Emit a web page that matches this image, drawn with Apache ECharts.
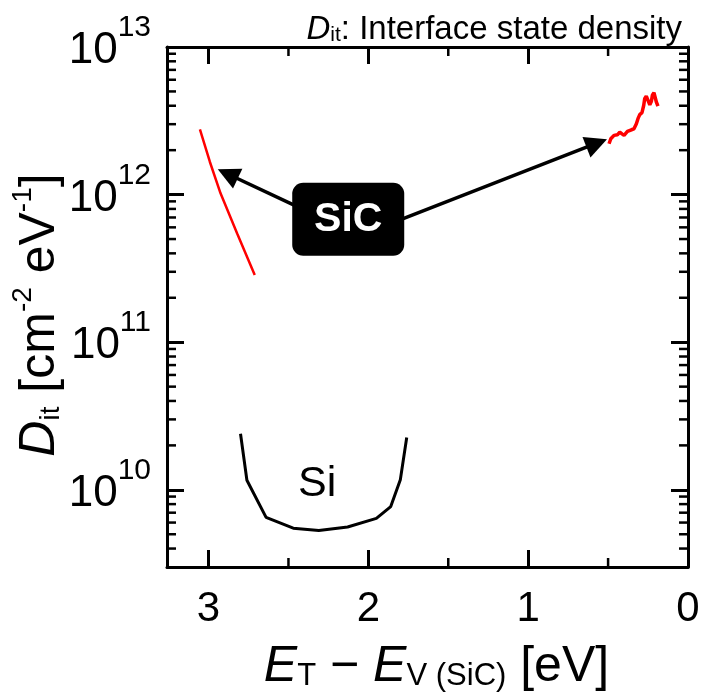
<!DOCTYPE html>
<html>
<head>
<meta charset="utf-8">
<script src="https://cdn.jsdelivr.net/npm/echarts@6/dist/echarts.min.js"></script>
<style>
  html, body { margin: 0; padding: 0; background: #fff; }
  #chart { width: 704px; height: 695px; }
</style>
</head>
<body>
<div id="chart"></div>
<script>
// Interface state density vs. trap energy, measured from the SiC valence band edge [eV]

// Si/SiO2 interface (drawn inside the SiC gap)
const siEnergy = [2.80, 2.76, 2.64, 2.47, 2.31, 2.13, 1.95, 1.86, 1.80, 1.76];
const siDit    = [2.40e10, 1.16e10, 6.5e9, 5.5e9, 5.3e9, 5.6e9, 6.4e9, 7.7e9, 1.17e10, 2.26e10];

// SiC/SiO2 interface, near the conduction band
const sicCbEnergy = [3.054, 2.992, 2.925, 2.821, 2.711];
const sicCbDit    = [2.77e12, 1.67e12, 1.02e12, 5.46e11, 2.85e11];

// SiC/SiO2 interface, near the valence band
const sicVbEnergy = [0.494, 0.483, 0.463, 0.442, 0.427, 0.413, 0.400, 0.379, 0.354, 0.338,
                     0.323, 0.313, 0.302, 0.288, 0.277, 0.271, 0.261, 0.250, 0.239, 0.229,
                     0.223, 0.213, 0.204, 0.198, 0.188];
const sicVbDit    = [2.21e12, 2.39e12, 2.52e12, 2.54e12, 2.65e12, 2.58e12, 2.52e12, 2.68e12, 2.75e12, 2.79e12,
                     3.02e12, 3.27e12, 3.48e12, 3.59e12, 4.03e12, 4.46e12, 4.65e12, 4.51e12, 4.06e12, 4.29e12,
                     4.71e12, 4.90e12, 4.75e12, 4.24e12, 3.98e12];

// Axis labels
const xTickLabels = [0, 1, 2, 3];
const yDecades = [10, 11, 12, 13];
const xMinorTicks = [0.5, 1.5, 2.5];

// Axis ranges
const xMin = 0, xMax = 3.26;
const yMin = 3e9, yMax = 1e13;

// Annotation anchors in data coordinates
const arrowLeftFrom  = [2.425, 8.1e11];
const arrowLeftTo    = [2.88, 1.38e12];
const arrowRightFrom = [1.81, 6.7e11];
const arrowRightTo   = [0.571, 2.23e12];
const sicBoxAt       = [2.126, 6.8e11];
const siLabelAt      = [2.32, 1.1e10];

const FONT = "'Liberation Sans', Arial, Helvetica, sans-serif";

// Log minor ticks (2..9 x 10^n) inside the plotted range
const yMinorTicks = [];
for (let e = 9; e <= 12; e++) {
  for (let m = 2; m <= 9; m++) {
    const v = m * Math.pow(10, e);
    if (v > yMin && v < yMax) yMinorTicks.push(v);
  }
}

function pair(xs, ys) { return xs.map((x, i) => [x, ys[i]]); }

function decadeLabel(v) {
  const lg = Math.log10(v);
  const e = Math.round(lg);
  if (Math.abs(lg - e) > 1e-6 || !yDecades.includes(e)) return '';
  return '{b|10}{s|' + e + '}';
}

const axisLineStyle = { show: true, onZero: false, lineStyle: { color: '#000', width: 3 } };
const majorTick = { show: true, inside: true, length: 17, lineStyle: { color: '#000', width: 3 } };

const chart = echarts.init(document.getElementById('chart'), null, { renderer: 'canvas' });

chart.setOption({
  animation: false,
  backgroundColor: '#fff',
  title: {
    text: '{i|D}{sub|it}{n|: Interface state density}',
    right: 22,
    top: 6,
    padding: 0,
    textStyle: {
      fontWeight: 'normal',
      rich: {
        i:   { fontFamily: FONT, fontStyle: 'italic', fontWeight: 'normal', fontSize: 33, lineHeight: 40, color: '#000', verticalAlign: 'bottom' },
        sub: { fontFamily: FONT, fontWeight: 'normal', fontSize: 21, lineHeight: 21, color: '#000', verticalAlign: 'bottom' },
        n:   { fontFamily: FONT, fontWeight: 'normal', fontSize: 33, lineHeight: 40, color: '#000', verticalAlign: 'bottom' }
      }
    }
  },
  grid: { left: 167, right: 16, top: 47, bottom: 128, outerBoundsMode: 'none', containLabel: false },
  xAxis: [
    {
      type: 'value', position: 'bottom', inverse: true,
      min: xMin, max: xMax, interval: 1,
      axisLine: axisLineStyle, axisTick: majorTick, splitLine: { show: false },
      axisLabel: {
        margin: 21, fontSize: 42, color: '#000', fontFamily: FONT,
        formatter: v => (xTickLabels.includes(v) ? String(v) : '')
      },
      name: '{i|E}{sub|T}{n| − }{i|E}{sub|V (SiC)}{n| [eV]}',
      nameLocation: 'middle', nameGap: 59, nameMoveOverlap: false,
      nameTextStyle: {
        padding: [0, 0, 0, 18],
        rich: {
          i:   { fontFamily: FONT, fontStyle: 'italic', fontSize: 50, lineHeight: 66, color: '#000', verticalAlign: 'bottom' },
          sub: { fontFamily: FONT, fontSize: 31, lineHeight: 31, color: '#000', verticalAlign: 'bottom' },
          n:   { fontFamily: FONT, fontSize: 50, lineHeight: 66, color: '#000', verticalAlign: 'bottom' }
        }
      }
    },
    {
      type: 'value', position: 'top', inverse: true,
      min: xMin, max: xMax, interval: 1,
      axisLine: axisLineStyle, axisTick: majorTick, splitLine: { show: false },
      axisLabel: { show: false }
    }
  ],
  yAxis: [
    {
      type: 'log', logBase: 10, position: 'left',
      min: yMin, max: yMax,
      axisLine: axisLineStyle, axisTick: majorTick, splitLine: { show: false },
      axisLabel: {
        margin: 16, color: '#000', formatter: decadeLabel,
        padding: [0, 0, 8, 0],
        rich: {
          b: { fontFamily: FONT, fontSize: 44, lineHeight: 60, color: '#000', verticalAlign: 'bottom' },
          s: { fontFamily: FONT, fontSize: 30, lineHeight: 30, color: '#000', verticalAlign: 'top' }
        }
      },
      name: '{i|D}{sub|it}{n| [cm}{sup|-2}{n| eV}{sup|-1}{n|]}',
      nameLocation: 'middle', nameGap: 102, nameMoveOverlap: false,
      nameTextStyle: {
        padding: [0, 16, 0, 0],
        rich: {
          i:   { fontFamily: FONT, fontStyle: 'italic', fontSize: 50, lineHeight: 56, color: '#000', verticalAlign: 'bottom' },
          n:   { fontFamily: FONT, fontSize: 50, lineHeight: 56, color: '#000', verticalAlign: 'bottom' },
          sub: { fontFamily: FONT, fontSize: 28, lineHeight: 28, color: '#000', verticalAlign: 'bottom' },
          sup: { fontFamily: FONT, fontSize: 28, lineHeight: 28, color: '#000', verticalAlign: 'top' }
        }
      }
    },
    {
      type: 'log', logBase: 10, position: 'right',
      min: yMin, max: yMax,
      axisLine: axisLineStyle, axisTick: majorTick, splitLine: { show: false },
      axisLabel: { show: false }
    }
  ],
  series: [
    {
      name: 'Si', type: 'line', xAxisIndex: 0, yAxisIndex: 0,
      data: pair(siEnergy, siDit),
      showSymbol: false, symbol: 'none', silent: true,
      lineStyle: { color: '#000', width: 3 }
    },
    {
      name: 'SiC (CB side)', type: 'line', xAxisIndex: 0, yAxisIndex: 0,
      data: pair(sicCbEnergy, sicCbDit),
      showSymbol: false, symbol: 'none', silent: true,
      lineStyle: { color: '#ff0000', width: 2.5 }
    },
    {
      name: 'SiC (VB side)', type: 'line', xAxisIndex: 0, yAxisIndex: 0,
      data: pair(sicVbEnergy, sicVbDit),
      showSymbol: false, symbol: 'none', silent: true,
      lineStyle: { color: '#ff0000', width: 3.5 }
    },
    {
      // pointer arrows from the SiC tag to both SiC curves
      name: 'arrows', type: 'line', xAxisIndex: 0, yAxisIndex: 0, data: [], z: 4,
      markLine: {
        silent: true, animation: false,
        symbol: ['none', 'triangle'], symbolSize: 22,
        label: { show: false },
        itemStyle: { color: '#000' },
        lineStyle: { color: '#000', width: 3.5, type: 'solid' },
        emphasis: { disabled: true },
        data: [
          [{ coord: arrowLeftFrom }, { coord: arrowLeftTo }],
          [{ coord: arrowRightFrom }, { coord: arrowRightTo }]
        ]
      }
    },
    {
      // curve tags
      name: 'tags', type: 'line', xAxisIndex: 0, yAxisIndex: 0, data: [], z: 6,
      markPoint: {
        silent: true, animation: false,
        symbol: 'circle', symbolSize: 1,
        itemStyle: { color: 'rgba(0,0,0,0)' },
        data: [
          {
            coord: sicBoxAt,
            label: {
              show: true, position: 'inside', formatter: 'SiC',
              color: '#fff', fontFamily: FONT, fontWeight: 'bold', fontSize: 41,
              backgroundColor: '#000', borderRadius: 11,
              width: 112, height: 73, lineHeight: 73, align: 'center', verticalAlign: 'middle'
            }
          },
          {
            coord: siLabelAt,
            label: {
              show: true, position: 'inside', formatter: 'Si',
              color: '#000', fontFamily: FONT, fontSize: 43
            }
          }
        ]
      }
    },
    {
      // minor ticks on the left and right frame
      name: 'y minor ticks', type: 'custom', xAxisIndex: 0, yAxisIndex: 0, silent: true, z: 3,
      data: yMinorTicks.map(v => [xMin, v]),
      renderItem: (params, api) => {
        const cs = params.coordSys;
        const y = api.coord([xMin, api.value(1)])[1];
        const st = { stroke: '#000', lineWidth: 2.5 };
        return {
          type: 'group',
          children: [
            { type: 'line', shape: { x1: cs.x, y1: y, x2: cs.x + 9, y2: y }, style: st },
            { type: 'line', shape: { x1: cs.x + cs.width - 9, y1: y, x2: cs.x + cs.width, y2: y }, style: st }
          ]
        };
      }
    },
    {
      // minor ticks on the bottom and top frame
      name: 'x minor ticks', type: 'custom', xAxisIndex: 0, yAxisIndex: 0, silent: true, z: 3,
      data: xMinorTicks.map(v => [v, 1e11]),
      renderItem: (params, api) => {
        const cs = params.coordSys;
        const x = api.coord([api.value(0), 1e11])[0];
        const st = { stroke: '#000', lineWidth: 2.5 };
        return {
          type: 'group',
          children: [
            { type: 'line', shape: { x1: x, y1: cs.y + cs.height, x2: x, y2: cs.y + cs.height - 9 }, style: st },
            { type: 'line', shape: { x1: x, y1: cs.y, x2: x, y2: cs.y + 9 }, style: st }
          ]
        };
      }
    }
  ]
});
</script>
</body>
</html>
